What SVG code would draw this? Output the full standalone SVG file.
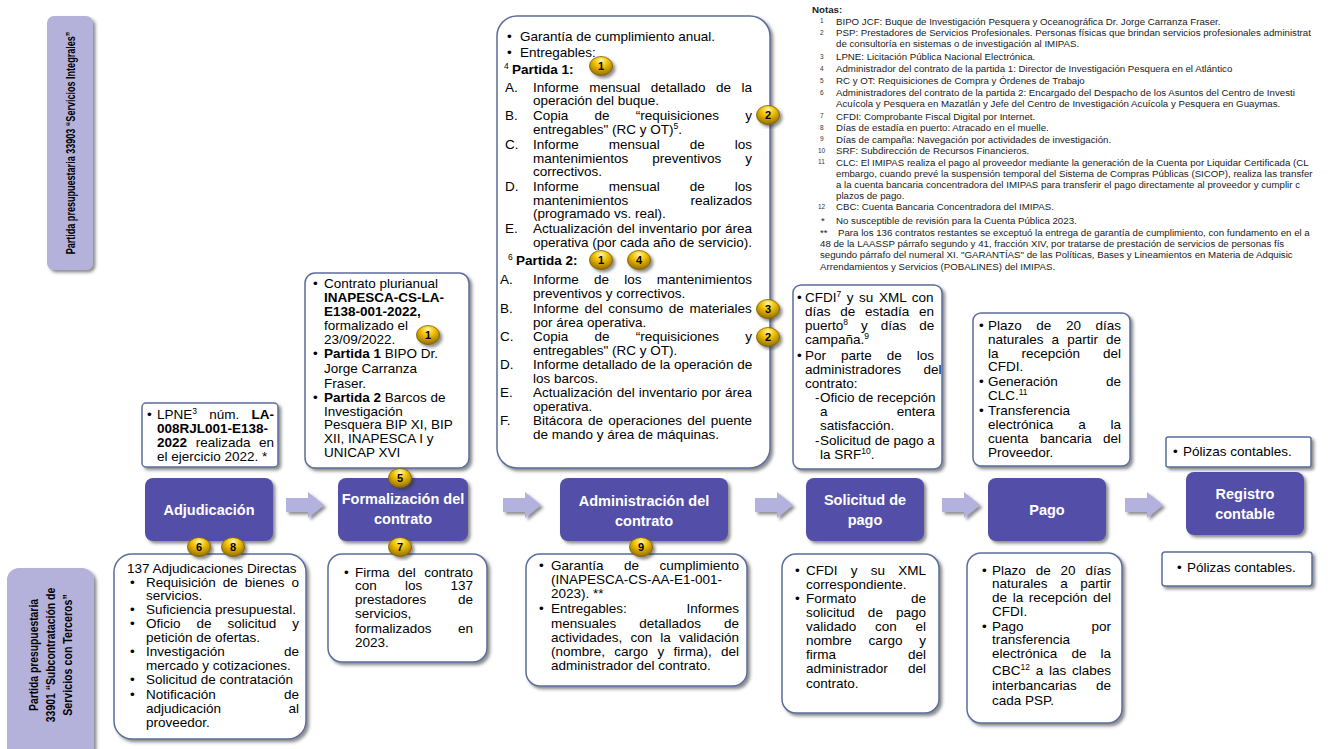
<svg xmlns="http://www.w3.org/2000/svg" width="1339" height="749" viewBox="0 0 1339 749">
<defs>
<filter id="sh" x="-10%" y="-10%" width="130%" height="130%">
<feDropShadow dx="2.5" dy="2.5" stdDeviation="1.5" flood-color="#333" flood-opacity="0.55"/>
</filter>
<radialGradient id="gold" cx="50%" cy="30%" r="65%" fx="50%" fy="20%">
<stop offset="0" stop-color="#FFF6A8"/>
<stop offset="0.45" stop-color="#F2C200"/>
<stop offset="1" stop-color="#9E7600"/>
</radialGradient>
<style>
.box{fill:#fff;stroke:#5B6E9C;stroke-width:1.5;filter:url(#sh)}
.main{fill:#5350A9;filter:url(#sh)}
.lav{fill:#B4B1DB;filter:url(#sh)}
.arr{fill:#B3B1DD;filter:url(#sh)}
text{font-family:"Liberation Sans",Arial,sans-serif}
.t{font-size:13.5px;fill:#000}
.b{font-weight:bold}
.w{font-size:14.5px;font-weight:bold;fill:#fff;text-anchor:middle}
.lv{font-weight:bold;font-size:13px;fill:#000;text-anchor:middle}
.n{font-size:9.7px;fill:#1a1a1a}
.nn{font-size:6.5px;fill:#333}
.bd ellipse{fill:url(#gold);stroke:#7A5E00;stroke-width:0.8;filter:url(#sh)}
.bd text{font-size:11px;font-weight:bold;fill:#000;text-anchor:middle}
</style>
</defs>
<rect width="1339" height="749" fill="#fff"/>

<!-- Left labels -->
<g id="label-33903">
<rect class="lav" x="47" y="16" width="46" height="254" rx="7"/>
<text class="lv" transform="translate(75,143) rotate(-90) scale(0.7,1)" textLength="318" lengthAdjust="spacingAndGlyphs">Partida presupuestaria 33903 “Servicios Integrales”</text>
</g>
<g id="label-33901">
<rect class="lav" x="7" y="568" width="87" height="195" rx="12"/>
<text class="lv" transform="translate(38,655) rotate(-90) scale(0.8,1)" textLength="140" lengthAdjust="spacingAndGlyphs">Partida presupuestaria</text>
<text class="lv" transform="translate(55,655) rotate(-90) scale(0.8,1)" textLength="168" lengthAdjust="spacingAndGlyphs">33901 “Subcontratación de</text>
<text class="lv" transform="translate(72,655) rotate(-90) scale(0.8,1)" textLength="152" lengthAdjust="spacingAndGlyphs">Servicios con Terceros”</text>
</g>

<!-- Connectors -->
<g id="connectors">
<path class="arr" d="M286,498 H308 V492 L324,505 L308,518 V512 H286 Z"/>
<path class="arr" d="M503,498 H525 V492 L541,505 L525,518 V512 H503 Z"/>
<path class="arr" d="M755,498 H777 V492 L793,505 L777,518 V512 H755 Z"/>
<path class="arr" d="M942,498 H964 V492 L980,505 L964,518 V512 H942 Z"/>
<path class="arr" d="M1125,498 H1147 V492 L1163,505 L1147,518 V512 H1125 Z"/>
</g>

<!-- Main process nodes -->
<g id="adjudicacion">
<rect class="main" x="145" y="478" width="128" height="63" rx="8"/>
<text class="w" x="209" y="515">Adjudicación</text>
</g>
<g id="formalizacion">
<rect class="main" x="338" y="478" width="130" height="63" rx="8"/>
<text class="w" x="403" y="504">Formalización del</text>
<text class="w" x="403" y="524">contrato</text>
</g>
<g id="administracion">
<rect class="main" x="560" y="478" width="168" height="63" rx="8"/>
<text class="w" x="644" y="506">Administración del</text>
<text class="w" x="644" y="526">contrato</text>
</g>
<g id="solicitud">
<rect class="main" x="806" y="478" width="118" height="63" rx="8"/>
<text class="w" x="865" y="505">Solicitud de</text>
<text class="w" x="865" y="525">pago</text>
</g>
<g id="pago">
<rect class="main" x="988" y="478" width="118" height="63" rx="8"/>
<text class="w" x="1047" y="515">Pago</text>
</g>
<g id="registro">
<rect class="main" x="1186" y="472" width="118" height="63" rx="8"/>
<text class="w" x="1245" y="499">Registro</text>
<text class="w" x="1245" y="519">contable</text>
</g>

<!-- Top boxes (33903) -->
<g id="adjudicacion-top">
<rect class="box" x="142" y="403" width="136" height="64" rx="4"/>
<text class="t" x="147" y="419">•</text>
<text class="t" x="157" y="419" word-spacing="8.5">LPNE<tspan font-size="8.5" dy="-5">3</tspan><tspan dy="5"> núm. </tspan><tspan class="b">LA-</tspan></text>
<text class="t b" x="157" y="433">008RJL001-E138-</text>
<text class="t" x="157" y="447" word-spacing="4.85"><tspan class="b">2022</tspan> realizada en</text>
<text class="t" x="157" y="461">el ejercicio 2022. *</text>
</g>

<g id="formalizacion-top">
<rect class="box" x="305" y="273" width="164" height="195" rx="10"/>
<text class="t" x="313" y="288">•</text>
<text class="t" x="324" y="288">Contrato plurianual</text>
<text class="t b" x="324" y="302">INAPESCA-CS-LA-</text>
<text class="t b" x="324" y="316">E138-001-2022,</text>
<text class="t" x="324" y="330">formalizado el</text>
<text class="t" x="324" y="344">23/09/2022.</text>
<text class="t" x="313" y="358">•</text>
<text class="t" x="324" y="358"><tspan class="b">Partida 1</tspan> BIPO Dr.</text>
<text class="t" x="324" y="373">Jorge Carranza</text>
<text class="t" x="324" y="388">Fraser.</text>
<text class="t" x="313" y="402">•</text>
<text class="t" x="324" y="402"><tspan class="b">Partida 2</tspan> Barcos de</text>
<text class="t" x="324" y="416">Investigación</text>
<text class="t" x="324" y="429">Pesquera BIP XI, BIP</text>
<text class="t" x="324" y="443">XII, INAPESCA I y</text>
<text class="t" x="324" y="457">UNICAP XVI</text>
</g>

<g id="administracion-top">
<rect class="box" x="497" y="16" width="273" height="452" rx="20"/>
<text class="t" x="507" y="41">•</text>
<text class="t" x="520" y="41">Garantía de cumplimiento anual.</text>
<text class="t" x="507" y="57">•</text>
<text class="t" x="520" y="57">Entregables:</text>
<text class="t" x="504" y="74"><tspan font-size="8.5" dy="-5">4</tspan><tspan class="b" x="512" dy="5">Partida 1:</tspan></text>
<text class="t" x="505" y="92">A.</text>
<text class="t" x="533" y="92" word-spacing="6.7">Informe mensual detallado de la</text>
<text class="t" x="533" y="105">operación del buque.</text>
<text class="t" x="505" y="120">B.</text>
<text class="t" x="533" y="120" word-spacing="22.5">Copia de “requisiciones y</text>
<text class="t" x="533" y="134">entregables" (RC y OT)<tspan font-size="8.5" dy="-5">5</tspan><tspan dy="5">.</tspan></text>
<text class="t" x="505" y="149">C.</text>
<text class="t" x="533" y="149" word-spacing="26.2">Informe mensual de los</text>
<text class="t" x="533" y="163" word-spacing="20.2">mantenimientos preventivos y</text>
<text class="t" x="533" y="176">correctivos.</text>
<text class="t" x="505" y="191">D.</text>
<text class="t" x="533" y="191" word-spacing="26.2">Informe mensual de los</text>
<text class="t" x="533" y="205" word-spacing="58.4">mantenimientos realizados</text>
<text class="t" x="533" y="218">(programado vs. real).</text>
<text class="t" x="505" y="233">E.</text>
<text class="t" x="533" y="233" word-spacing="0.35">Actualización del inventario por área</text>
<text class="t" x="533" y="247">operativa (por cada año de servicio).</text>
<text class="t" x="508" y="265"><tspan font-size="8.5" dy="-5">6</tspan><tspan class="b" x="516" dy="5">Partida 2:</tspan></text>
<text class="t" x="500" y="284">A.</text>
<text class="t" x="533" y="284" word-spacing="11.5">Informe de los mantenimientos</text>
<text class="t" x="533" y="298">preventivos y correctivos.</text>
<text class="t" x="500" y="313">B.</text>
<text class="t" x="533" y="313" word-spacing="2">Informe del consumo de materiales</text>
<text class="t" x="533" y="327">por área operativa.</text>
<text class="t" x="500" y="341">C.</text>
<text class="t" x="533" y="341" word-spacing="22.5">Copia de “requisiciones y</text>
<text class="t" x="533" y="355">entregables" (RC y OT).</text>
<text class="t" x="500" y="369">D.</text>
<text class="t" x="533" y="369">Informe detallado de la operación de</text>
<text class="t" x="533" y="383">los barcos.</text>
<text class="t" x="500" y="397">E.</text>
<text class="t" x="533" y="397" word-spacing="0.35">Actualización del inventario por área</text>
<text class="t" x="533" y="411">operativa.</text>
<text class="t" x="500" y="425">F.</text>
<text class="t" x="533" y="425" word-spacing="1.66">Bitácora de operaciones del puente</text>
<text class="t" x="533" y="439">de mando y área de máquinas.</text>
</g>

<g id="solicitud-top">
<rect class="box" x="793" y="285" width="149" height="184" rx="8"/>
<text class="t" x="797" y="302">•</text>
<text class="t" x="805" y="302" word-spacing="1.8">CFDI<tspan font-size="8.5" dy="-5">7</tspan><tspan dy="5"> y su XML con</tspan></text>
<text class="t" x="805" y="316" word-spacing="6">días de estadía en</text>
<text class="t" x="805" y="330" word-spacing="9.2">puerto<tspan font-size="8.5" dy="-5">8</tspan><tspan dy="5"> y días de</tspan></text>
<text class="t" x="805" y="344">campaña.<tspan font-size="8.5" dy="-5">9</tspan></text>
<text class="t" x="797" y="360">•</text>
<text class="t" x="805" y="360" word-spacing="11.2">Por parte de los</text>
<text class="t" x="805" y="374" word-spacing="18.7">administradores del</text>
<text class="t" x="805" y="388">contrato:</text>
<text class="t" x="815" y="402">-</text>
<text class="t" x="820" y="402">Oficio de recepción</text>
<text class="t" x="820" y="416" word-spacing="65.5">a entera</text>
<text class="t" x="820" y="430">satisfacción.</text>
<text class="t" x="815" y="445">-</text>
<text class="t" x="820" y="445">Solicitud de pago a</text>
<text class="t" x="820" y="459">la SRF<tspan font-size="8.5" dy="-5">10</tspan><tspan dy="5">.</tspan></text>
</g>

<g id="pago-top">
<rect class="box" x="973" y="313" width="157" height="153" rx="8"/>
<text class="t" x="979" y="330">•</text>
<text class="t" x="988" y="330" word-spacing="10.8">Plazo de 20 días</text>
<text class="t" x="988" y="344" word-spacing="4.3">naturales a partir de</text>
<text class="t" x="988" y="358" word-spacing="19.2">la recepción del</text>
<text class="t" x="988" y="371">CFDI.</text>
<text class="t" x="979" y="386">•</text>
<text class="t" x="988" y="386" word-spacing="44.5">Generación de</text>
<text class="t" x="988" y="400">CLC.<tspan font-size="8.5" dy="-5">11</tspan></text>
<text class="t" x="979" y="415">•</text>
<text class="t" x="988" y="415">Transferencia</text>
<text class="t" x="988" y="429" word-spacing="21.1">electrónica a la</text>
<text class="t" x="988" y="443" word-spacing="7.6">cuenta bancaria del</text>
<text class="t" x="988" y="457">Proveedor.</text>
</g>

<g id="registro-top">
<rect class="box" x="1166" y="437" width="145" height="30" rx="2"/>
<text class="t" x="1173" y="456">•</text>
<text class="t" x="1183" y="456">Pólizas contables.</text>
</g>

<!-- Bottom boxes (33901) -->
<g id="adjudicacion-bottom">
<rect class="box" x="114" y="554" width="192" height="185" rx="18"/>
<text class="t" x="127" y="573">137 Adjudicaciones Directas</text>
<text class="t" x="130" y="587">•</text>
<text class="t" x="146" y="587" word-spacing="3.2">Requisición de bienes o</text>
<text class="t" x="146" y="600">servicios.</text>
<text class="t" x="130" y="614">•</text>
<text class="t" x="146" y="614">Suficiencia presupuestal.</text>
<text class="t" x="130" y="628">•</text>
<text class="t" x="146" y="628" word-spacing="12.2">Oficio de solicitud y</text>
<text class="t" x="146" y="642">petición de ofertas.</text>
<text class="t" x="130" y="656">•</text>
<text class="t" x="146" y="656" word-spacing="55.4">Investigación de</text>
<text class="t" x="146" y="670">mercado y cotizaciones.</text>
<text class="t" x="130" y="684">•</text>
<text class="t" x="146" y="684">Solicitud de contratación</text>
<text class="t" x="130" y="699">•</text>
<text class="t" x="146" y="699" word-spacing="64.5">Notificación de</text>
<text class="t" x="146" y="713" word-spacing="63.7">adjudicación al</text>
<text class="t" x="146" y="727">proveedor.</text>
</g>

<g id="formalizacion-bottom">
<rect class="box" x="328" y="554" width="159" height="108" rx="14"/>
<text class="t" x="344" y="577">•</text>
<text class="t" x="355" y="577" word-spacing="4.6">Firma del contrato</text>
<text class="t" x="355" y="590" word-spacing="24.5">con los 137</text>
<text class="t" x="355" y="604" word-spacing="28">prestadores de</text>
<text class="t" x="355" y="618">servicios,</text>
<text class="t" x="355" y="633" word-spacing="22.7">formalizados en</text>
<text class="t" x="355" y="647">2023.</text>
</g>

<g id="administracion-bottom">
<rect class="box" x="526" y="554" width="221" height="132" rx="14"/>
<text class="t" x="539" y="570">•</text>
<text class="t" x="551" y="570" word-spacing="16.7">Garantía de cumplimiento</text>
<text class="t" x="551" y="584">(INAPESCA-CS-AA-E1-001-</text>
<text class="t" x="551" y="598">2023). **</text>
<text class="t" x="539" y="613">•</text>
<text class="t" x="551" y="613" word-spacing="56">Entregables: Informes</text>
<text class="t" x="551" y="628" word-spacing="19.3">mensuales detallados de</text>
<text class="t" x="551" y="642" word-spacing="4.4">actividades, con la validación</text>
<text class="t" x="551" y="656" word-spacing="5.55">(nombre, cargo y firma), del</text>
<text class="t" x="551" y="670">administrador del contrato.</text>
</g>

<g id="solicitud-bottom">
<rect class="box" x="782" y="554" width="157" height="159" rx="14"/>
<text class="t" x="795" y="575">•</text>
<text class="t" x="806" y="575" word-spacing="9.5">CFDI y su XML</text>
<text class="t" x="806" y="589">correspondiente.</text>
<text class="t" x="795" y="603">•</text>
<text class="t" x="806" y="603" word-spacing="51">Formato de</text>
<text class="t" x="806" y="617" word-spacing="9.35">solicitud de pago</text>
<text class="t" x="806" y="631" word-spacing="15">validado con el</text>
<text class="t" x="806" y="645" word-spacing="13.1">nombre cargo y</text>
<text class="t" x="806" y="659" word-spacing="68.2">firma del</text>
<text class="t" x="806" y="673" word-spacing="16.5">administrador del</text>
<text class="t" x="806" y="688">contrato.</text>
</g>

<g id="pago-bottom">
<rect class="box" x="967" y="553" width="155" height="170" rx="14"/>
<text class="t" x="982" y="575">•</text>
<text class="t" x="992" y="575" word-spacing="6.15">Plazo de 20 días</text>
<text class="t" x="992" y="588" word-spacing="8.85">naturales a partir</text>
<text class="t" x="992" y="602" word-spacing="1.9">de la recepción del</text>
<text class="t" x="992" y="616">CFDI.</text>
<text class="t" x="982" y="631">•</text>
<text class="t" x="992" y="631" word-spacing="64.2">Pago por</text>
<text class="t" x="992" y="644">transferencia</text>
<text class="t" x="992" y="658" word-spacing="10.35">electrónica de la</text>
<text class="t" x="992" y="675" word-spacing="2">CBC<tspan font-size="8.5" dy="-5">12</tspan><tspan dy="5"> a las clabes</tspan></text>
<text class="t" x="992" y="690" word-spacing="15.5">interbancarias de</text>
<text class="t" x="992" y="705">cada PSP.</text>
</g>

<g id="registro-bottom">
<rect class="box" x="1162" y="552" width="150" height="34" rx="3"/>
<text class="t" x="1177" y="572">•</text>
<text class="t" x="1187" y="572">Pólizas contables.</text>
</g>

<!-- Badges -->
<g id="badges" class="bd">
<g><ellipse cx="601" cy="66" rx="11.5" ry="9.5"/><text x="601" y="70">1</text></g>
<g><ellipse cx="768" cy="115" rx="11.5" ry="9.5"/><text x="768" y="119">2</text></g>
<g><ellipse cx="601" cy="260" rx="11.5" ry="9.5"/><text x="601" y="264">1</text></g>
<g><ellipse cx="639" cy="260" rx="11.5" ry="9.5"/><text x="639" y="264">4</text></g>
<g><ellipse cx="768" cy="309" rx="11.5" ry="9.5"/><text x="768" y="313">3</text></g>
<g><ellipse cx="768" cy="337" rx="11.5" ry="9.5"/><text x="768" y="341">2</text></g>
<g><ellipse cx="428" cy="335" rx="11.5" ry="9.5"/><text x="428" y="339">1</text></g>
<g><ellipse cx="400" cy="478" rx="11.5" ry="9.5"/><text x="400" y="482">5</text></g>
<g><ellipse cx="400" cy="547" rx="11.5" ry="9.5"/><text x="400" y="551">7</text></g>
<g><ellipse cx="199" cy="547" rx="11.5" ry="9.5"/><text x="199" y="551">6</text></g>
<g><ellipse cx="233" cy="547" rx="11.5" ry="9.5"/><text x="233" y="551">8</text></g>
<g><ellipse cx="641" cy="547" rx="11.5" ry="9.5"/><text x="641" y="551">9</text></g>
</g>

<!-- Notes -->
<g id="notas">
<text class="n b" x="812" y="13">Notas:</text>
<text class="nn" x="820" y="23">1</text><text class="n" x="836" y="24.5">BIPO JCF: Buque de Investigación Pesquera y Oceanográfica Dr. Jorge Carranza Fraser.</text>
<text class="nn" x="820" y="34.5">2</text><text class="n" x="836" y="36">PSP: Prestadores de Servicios Profesionales. Personas físicas que brindan servicios profesionales administrat</text>
<text class="n" x="836" y="47">de consultoría en sistemas o de investigación al IMIPAS.</text>
<text class="nn" x="820" y="58.5">3</text><text class="n" x="836" y="60">LPNE: Licitación Pública Nacional Electrónica.</text>
<text class="nn" x="820" y="70.5">4</text><text class="n" x="836" y="72">Administrador del contrato de la partida 1: Director de Investigación Pesquera en el Atlántico</text>
<text class="nn" x="820" y="82.5">5</text><text class="n" x="836" y="84">RC y OT: Requisiciones de Compra y Órdenes de Trabajo</text>
<text class="nn" x="820" y="94.5">6</text><text class="n" x="836" y="96">Administradores del contrato de la partida 2: Encargado del Despacho de los Asuntos del Centro de Investi</text>
<text class="n" x="836" y="107">Acuícola y Pesquera en Mazatlán y Jefe del Centro de Investigación Acuícola y Pesquera en Guaymas.</text>
<text class="nn" x="820" y="118">7</text><text class="n" x="836" y="119.5">CFDI: Comprobante Fiscal Digital por Internet.</text>
<text class="nn" x="820" y="129.5">8</text><text class="n" x="836" y="131">Días de estadía en puerto: Atracado en el muelle.</text>
<text class="nn" x="820" y="141">9</text><text class="n" x="836" y="142.5">Días de campaña: Navegación por actividades de investigación.</text>
<text class="nn" x="818" y="152.5">10</text><text class="n" x="836" y="154">SRF: Subdirección de Recursos Financieros.</text>
<text class="nn" x="818" y="164">11</text><text class="n" x="836" y="165.5">CLC: El IMIPAS realiza el pago al proveedor mediante la generación de la Cuenta por Liquidar Certificada (CL</text>
<text class="n" x="836" y="176.5">embargo, cuando prevé la suspensión temporal del Sistema de Compras Públicas (SICOP), realiza las transfer</text>
<text class="n" x="836" y="187.5">a la cuenta bancaria concentradora del IMIPAS para transferir el pago directamente al proveedor y cumplir c</text>
<text class="n" x="836" y="198.5">plazos de pago.</text>
<text class="nn" x="818" y="208.5">12</text><text class="n" x="836" y="210">CBC: Cuenta Bancaria Concentradora del IMIPAS.</text>
<text class="n" x="821" y="224">*</text><text class="n" x="836" y="224">No susceptible de revisión para la Cuenta Pública 2023.</text>
<text class="n" x="820" y="236">**</text><text class="n" x="838" y="236">Para los 136 contratos restantes se exceptuó la entrega de garantía de cumplimiento, con fundamento en el a</text>
<text class="n" x="820" y="247">48 de la LAASSP párrafo segundo y 41, fracción XIV, por tratarse de prestación de servicios de personas fís</text>
<text class="n" x="820" y="258">segundo párrafo del numeral XI. "GARANTÍAS" de las Políticas, Bases y Lineamientos en Materia de Adquisic</text>
<text class="n" x="820" y="269.5">Arrendamientos y Servicios (POBALINES) del IMIPAS.</text>
</g>
</svg>
